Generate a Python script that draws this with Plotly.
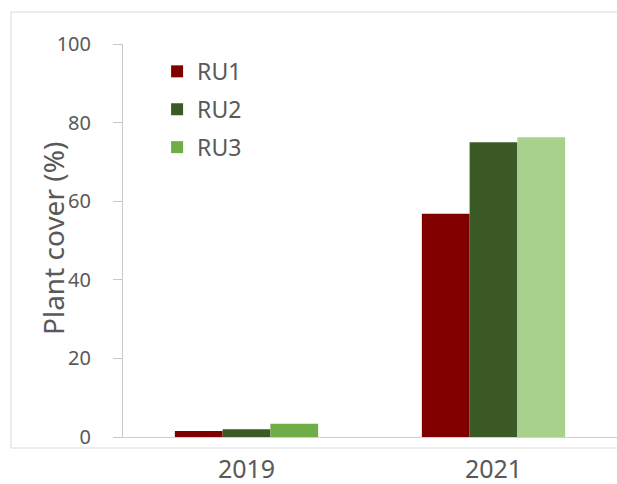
import plotly.graph_objects as go

years = ["2019", "2021"]
series_names = ["RU1", "RU2", "RU3"]
ru1 = [1.5, 56.8]
ru2 = [2.0, 75.0]
ru3 = [3.4, 76.3]
y_ticks = [0, 20, 40, 60, 80, 100]

colors = {
    "RU1": ["#800000", "#800000"],
    "RU2": ["#3b5a26", "#3b5a26"],
    "RU3": ["#70ad47", "#a9d18e"],
}

fig = go.Figure()
for i, (name, vals) in enumerate(zip(series_names, [ru1, ru2, ru3])):
    fig.add_trace(go.Bar(
        x=years, y=vals, name=name,
        marker=dict(color=colors[name], line=dict(width=0)),
        legendgroup=name,
    ))

border = dict(xref="paper", yref="paper", type="line",
              line=dict(color="#d9d9d9", width=1), layer="below")
bx0 = (11 - 123) / 494
by0 = (437 - 448) / 393
by1 = (437 - 12) / 393

font_fam = "Noto Sans, Open Sans, sans-serif"
fig.update_layout(
    width=617, height=484,
    margin=dict(l=123, r=0, t=44, b=47, autoexpand=False),
    paper_bgcolor="white", plot_bgcolor="white",
    barmode="group", bargap=0.42, bargroupgap=0,
    font=dict(family=font_fam, color="#595959"),
    showlegend=True,
    legend=dict(
        x=0.069, y=0.985, xanchor="left", yanchor="top",
        font=dict(size=23, color="#595959"),
        tracegroupgap=5, bgcolor="rgba(0,0,0,0)",
    ),
    xaxis=dict(
        type="category", range=[-0.5, 1.5], automargin=False,
        showline=True, linecolor="#d0d0d0", linewidth=1,
        ticks="", showgrid=False,
        tickfont=dict(size=25, color="#595959"),
        ticklabelstandoff=10,
    ),
    yaxis=dict(
        range=[0, 100], tickvals=y_ticks, automargin=False,
        ticks="outside", ticklen=9, tickcolor="#c8c8c8",
        showline=True, linecolor="#c8c8c8", linewidth=1,
        showgrid=False, zeroline=False,
        tickfont=dict(size=20, color="#595959"),
        ticklabelstandoff=18,
    ),
    shapes=[
        dict(border, x0=bx0, x1=1.1, y0=by1, y1=by1),
        dict(border, x0=bx0, x1=1.1, y0=by0, y1=by0),
        dict(border, x0=bx0, x1=bx0, y0=by0, y1=by1),
    ],
    annotations=[dict(
        text="Plant cover (%)", textangle=-90,
        xref="paper", yref="paper",
        x=(53 - 123) / 494, y=(437 - 239) / 393,
        xanchor="center", yanchor="middle", showarrow=False,
        font=dict(size=28, color="#595959"),
    )],
)

fig.write_html(
    "out.html",
    config={"displayModeBar": False},
    post_script="document.body.style.margin='0';"
                "document.documentElement.style.overflow='hidden';",
)
